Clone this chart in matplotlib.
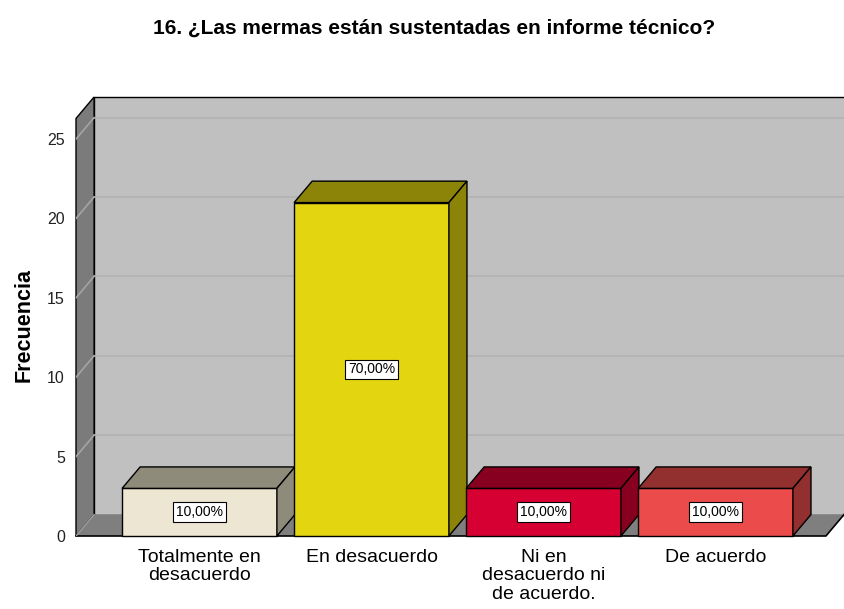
import matplotlib.pyplot as plt
from matplotlib.patches import Polygon

categorias = ['Totalmente en\ndesacuerdo', 'En desacuerdo',
              'Ni en\ndesacuerdo ni\nde acuerdo.', 'De acuerdo']
frecuencias = [3, 21, 3, 3]
porcentajes = ['10,00%', '70,00%', '10,00%', '10,00%']
colores_frente = ['#EDE6D2', '#E3D510', '#D70032', '#EC4B4B']
colores_lado = ['#8F8B7B', '#8C8408', '#87001F', '#922F2F']
ticks_y = [0, 5, 10, 15, 20, 25]

plt.rcParams['font.family'] = ['Liberation Sans', 'DejaVu Sans']

fig = plt.figure(figsize=(8.44, 6.09), dpi=100)
ax = fig.add_axes([76 / 844, (609 - 536) / 609, (844 - 76) / 844, (536 - 97) / 609])

x_min, x_max = -0.718, 3.747
x_suelo = 3.642
y_top = 26.3
dx, dy = 0.105, 1.35
ancho = 0.9
ax.set_xlim(x_min, x_max)
ax.set_ylim(0, y_top + dy)


def poly(pts, color, lw=1.0, z=1, ec='black'):
    ax.add_patch(Polygon(pts, closed=True, facecolor=color, edgecolor=ec,
                         linewidth=lw, zorder=z, clip_on=False, joinstyle='miter'))


# paredes
poly([(x_min + dx, dy), (x_max + 1, dy), (x_max + 1, y_top + dy), (x_min + dx, y_top + dy)],
     '#C0C0C0', z=0.5)
poly([(x_min, 0), (x_min + dx, dy), (x_min + dx, y_top + dy), (x_min, y_top)],
     '#7B7B7B', z=0.6)
poly([(x_min, 0), (x_suelo, 0), (x_suelo + dx, dy), (x_max + 1, dy), (x_min + dx, dy)],
     '#7F7F7F', z=0.7, ec='none')
ax.plot([x_min, x_suelo, x_suelo + dx], [0, 0, dy], color='black', lw=1.2, zorder=0.8,
        clip_on=False)
ax.plot([x_min, x_min + dx], [0, dy], color='#A0A0A0', lw=1.0, zorder=0.8)

for t in ticks_y[1:]:
    ax.plot([x_min + dx, x_max], [t + dy, t + dy], color='#B2B2B2', lw=1.2, zorder=0.9)
    ax.plot([x_min, x_min + dx], [t, t + dy], color='#A4A4A4', lw=1.2, zorder=0.9)

# barras
for i, (v, cf, cl, p) in enumerate(zip(frecuencias, colores_frente, colores_lado, porcentajes)):
    x0, x1 = i - ancho / 2, i + ancho / 2
    poly([(x0, 0), (x1, 0), (x1, v), (x0, v)], cf, z=2 + i)
    poly([(x0, v), (x1, v), (x1 + dx, v + dy), (x0 + dx, v + dy)], cl, z=2 + i)
    poly([(x1, 0), (x1 + dx, dy), (x1 + dx, v + dy), (x1, v)], cl, z=2 + i)
    ax.text(i, v / 2, p, ha='center', va='center', fontsize=10, zorder=10,
            bbox=dict(boxstyle='square,pad=0.2', facecolor='white', edgecolor='black',
                      linewidth=0.8))

ax.set_xticks(range(len(categorias)))
ax.set_xticklabels(categorias, fontsize=14, linespacing=1.12)
ax.set_yticks(ticks_y)
ax.set_yticklabels([str(t) for t in ticks_y], fontsize=11.5, color='#222222')
ax.tick_params(axis='both', length=0)
ax.tick_params(axis='x', pad=9)
ax.tick_params(axis='y', pad=8)
for s in ax.spines.values():
    s.set_visible(False)
ax.set_facecolor('none')

ax.set_ylabel('Frecuencia', fontsize=15.5, fontweight='bold')
ax.yaxis.set_label_coords(-41 / 768, (536 - 325) / 439)

fig.text(434 / 844, 1 - 28 / 609, '16. ¿Las mermas están sustentadas en informe técnico?',
         ha='center', va='center', fontsize=15, fontweight='bold')

plt.savefig('out.png', dpi=100)
